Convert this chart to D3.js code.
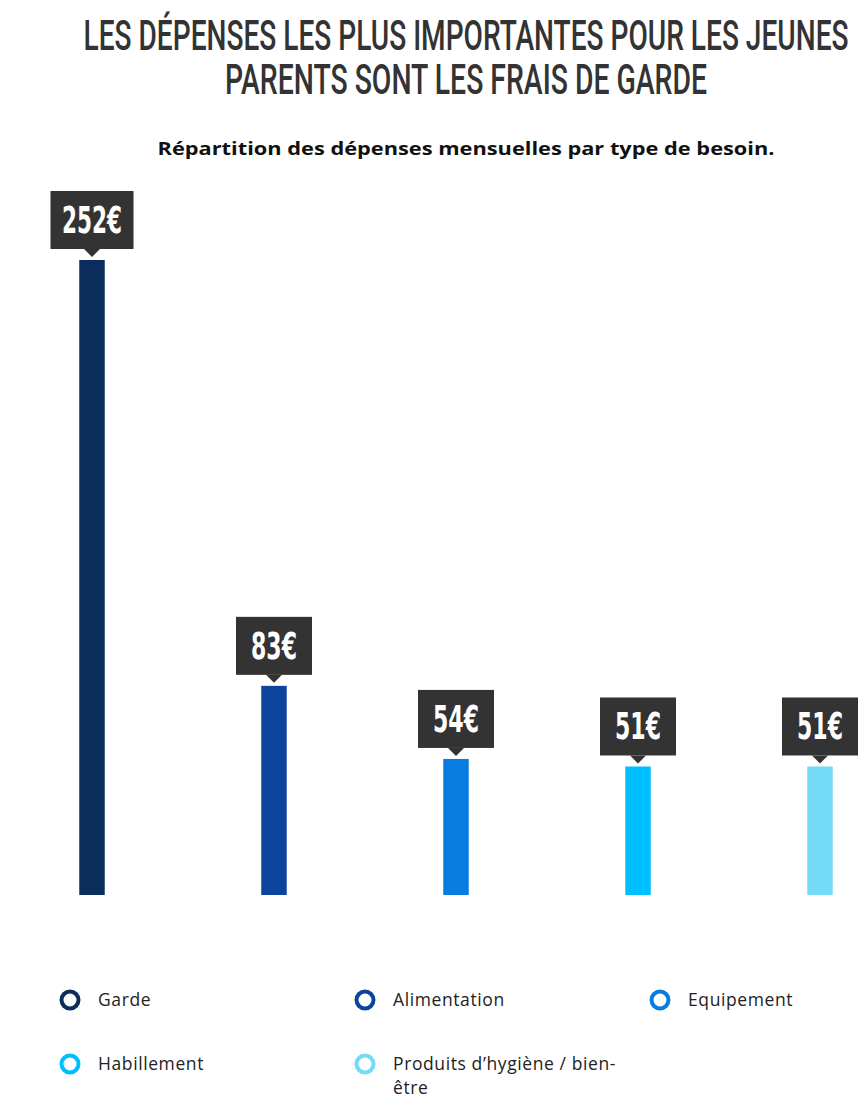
<!DOCTYPE html>
<html>
<head>
<meta charset="utf-8">
<script src="https://cdn.jsdelivr.net/npm/d3@7"></script>
<style>
  body { margin: 0; background: #fff; }
  svg { display: block; }
</style>
</head>
<body>
<svg id="chart" width="865" height="1104"></svg>
<script>
const categories = ['Garde', 'Alimentation', 'Equipement', 'Habillement', 'Produits d’hygiène / bien-être'];
const values = [252, 83, 54, 51, 51];
const colors = ['#0b2d5b', '#0c439c', '#087ddf', '#00bfff', '#74dbf7'];
const titleLines = ['LES DÉPENSES LES PLUS IMPORTANTES POUR LES JEUNES', 'PARENTS SONT LES FRAIS DE GARDE'];
const subtitle = 'Répartition des dépenses mensuelles par type de besoin.';

const svg = d3.select("#chart");

const condensed = "Roboto, 'DejaVu Sans', sans-serif";
const bodyFont = "'Open Sans', 'Noto Sans', sans-serif";

// Title: smaller font stretched vertically to look like a condensed face
const titleWidths = [765, 482];
titleLines.forEach((line, i) => {
    svg.append("g")
        .attr("transform", `translate(466, ${50 + i * 44}) scale(1, 1.5)`)
        .append("text")
        .attr("text-anchor", "middle")
        .attr("textLength", titleWidths[i]).attr("lengthAdjust", "spacingAndGlyphs")
        .style("font-family", condensed).style("font-weight", 500)
        .style("font-size", "28px").attr("fill", "#333")
        .text(line);
});

svg.append("text")
    .attr("x", 466).attr("y", 155)
    .attr("text-anchor", "middle")
    .attr("textLength", 617).attr("lengthAdjust", "spacingAndGlyphs")
    .style("font-family", bodyFont).style("font-weight", 700)
    .style("font-size", "18px").attr("fill", "#111")
    .text(subtitle);

// Scales
const xScale = d3.scaleBand()
    .domain(categories)
    .range([1, 911])
    .paddingInner(0.86)
    .paddingOuter(0.43);

const yScale = d3.scaleLinear()
    .domain([0, d3.max(values)])
    .range([895, 260]);

const data = categories.map((c, i) => ({ cat: c, value: values[i], color: colors[i] }));

// Bars
svg.selectAll(".bar")
    .data(data)
    .enter()
    .append("rect")
    .attr("class", "bar")
    .attr("x", d => xScale(d.cat))
    .attr("y", d => yScale(d.value))
    .attr("width", xScale.bandwidth())
    .attr("height", d => yScale(0) - yScale(d.value))
    .attr("fill", d => d.color);

// Value callouts
const callouts = svg.selectAll(".callout")
    .data(data)
    .enter()
    .append("g")
    .attr("class", "callout")
    .attr("transform", d => `translate(${xScale(d.cat) + xScale.bandwidth() / 2}, ${yScale(d.value) - 11})`);

callouts.each(function(d) {
    const g = d3.select(this);
    const label = d.value + "€";
    const w = label.length > 3 ? 83 : 76;
    g.append("rect")
        .attr("x", -w / 2).attr("y", -58)
        .attr("width", w).attr("height", 58)
        .attr("fill", "#333333");
    g.append("path")
        .attr("d", "M-8,0 L8,0 L0,8 Z")
        .attr("fill", "#333333");
    g.append("g")
        .attr("transform", "translate(0, -16) scale(1, 1.46)")
        .append("text")
        .attr("text-anchor", "middle")
        .attr("textLength", label.length > 3 ? 60 : 46).attr("lengthAdjust", "spacingAndGlyphs")
        .style("font-family", "'DejaVu Sans', sans-serif")
        .style("font-weight", 700).style("font-size", "26px")
        .attr("fill", "#fff")
        .text(label);
});

// Legend
const legendCols = [70, 365, 660];
const legendRows = [1000, 1064];
const legend = svg.selectAll(".legend-item")
    .data(data)
    .enter()
    .append("g")
    .attr("class", "legend-item")
    .attr("transform", (d, i) => `translate(${legendCols[i % 3]}, ${legendRows[Math.floor(i / 3)]})`);

legend.append("circle")
    .attr("r", 8.5)
    .attr("fill", "none")
    .attr("stroke", d => d.color)
    .attr("stroke-width", 4);

legend.each(function(d) {
    const t = d3.select(this).append("text")
        .attr("x", 28).attr("y", 6)
        .style("font-family", bodyFont)
        .style("font-size", "17.5px")
        .style("letter-spacing", "0.6px")
        .attr("fill", "#222");
    // wrap after the hyphen when the label is long
    const cut = d.cat.indexOf('-') + 1;
    const lines = d.cat.length > 25 ? [d.cat.slice(0, cut), d.cat.slice(cut)] : [d.cat];
    lines.forEach((line, j) => {
        t.append("tspan").attr("x", 28).attr("dy", j === 0 ? 0 : 24).text(line);
    });
});
</script>
</body>
</html>
